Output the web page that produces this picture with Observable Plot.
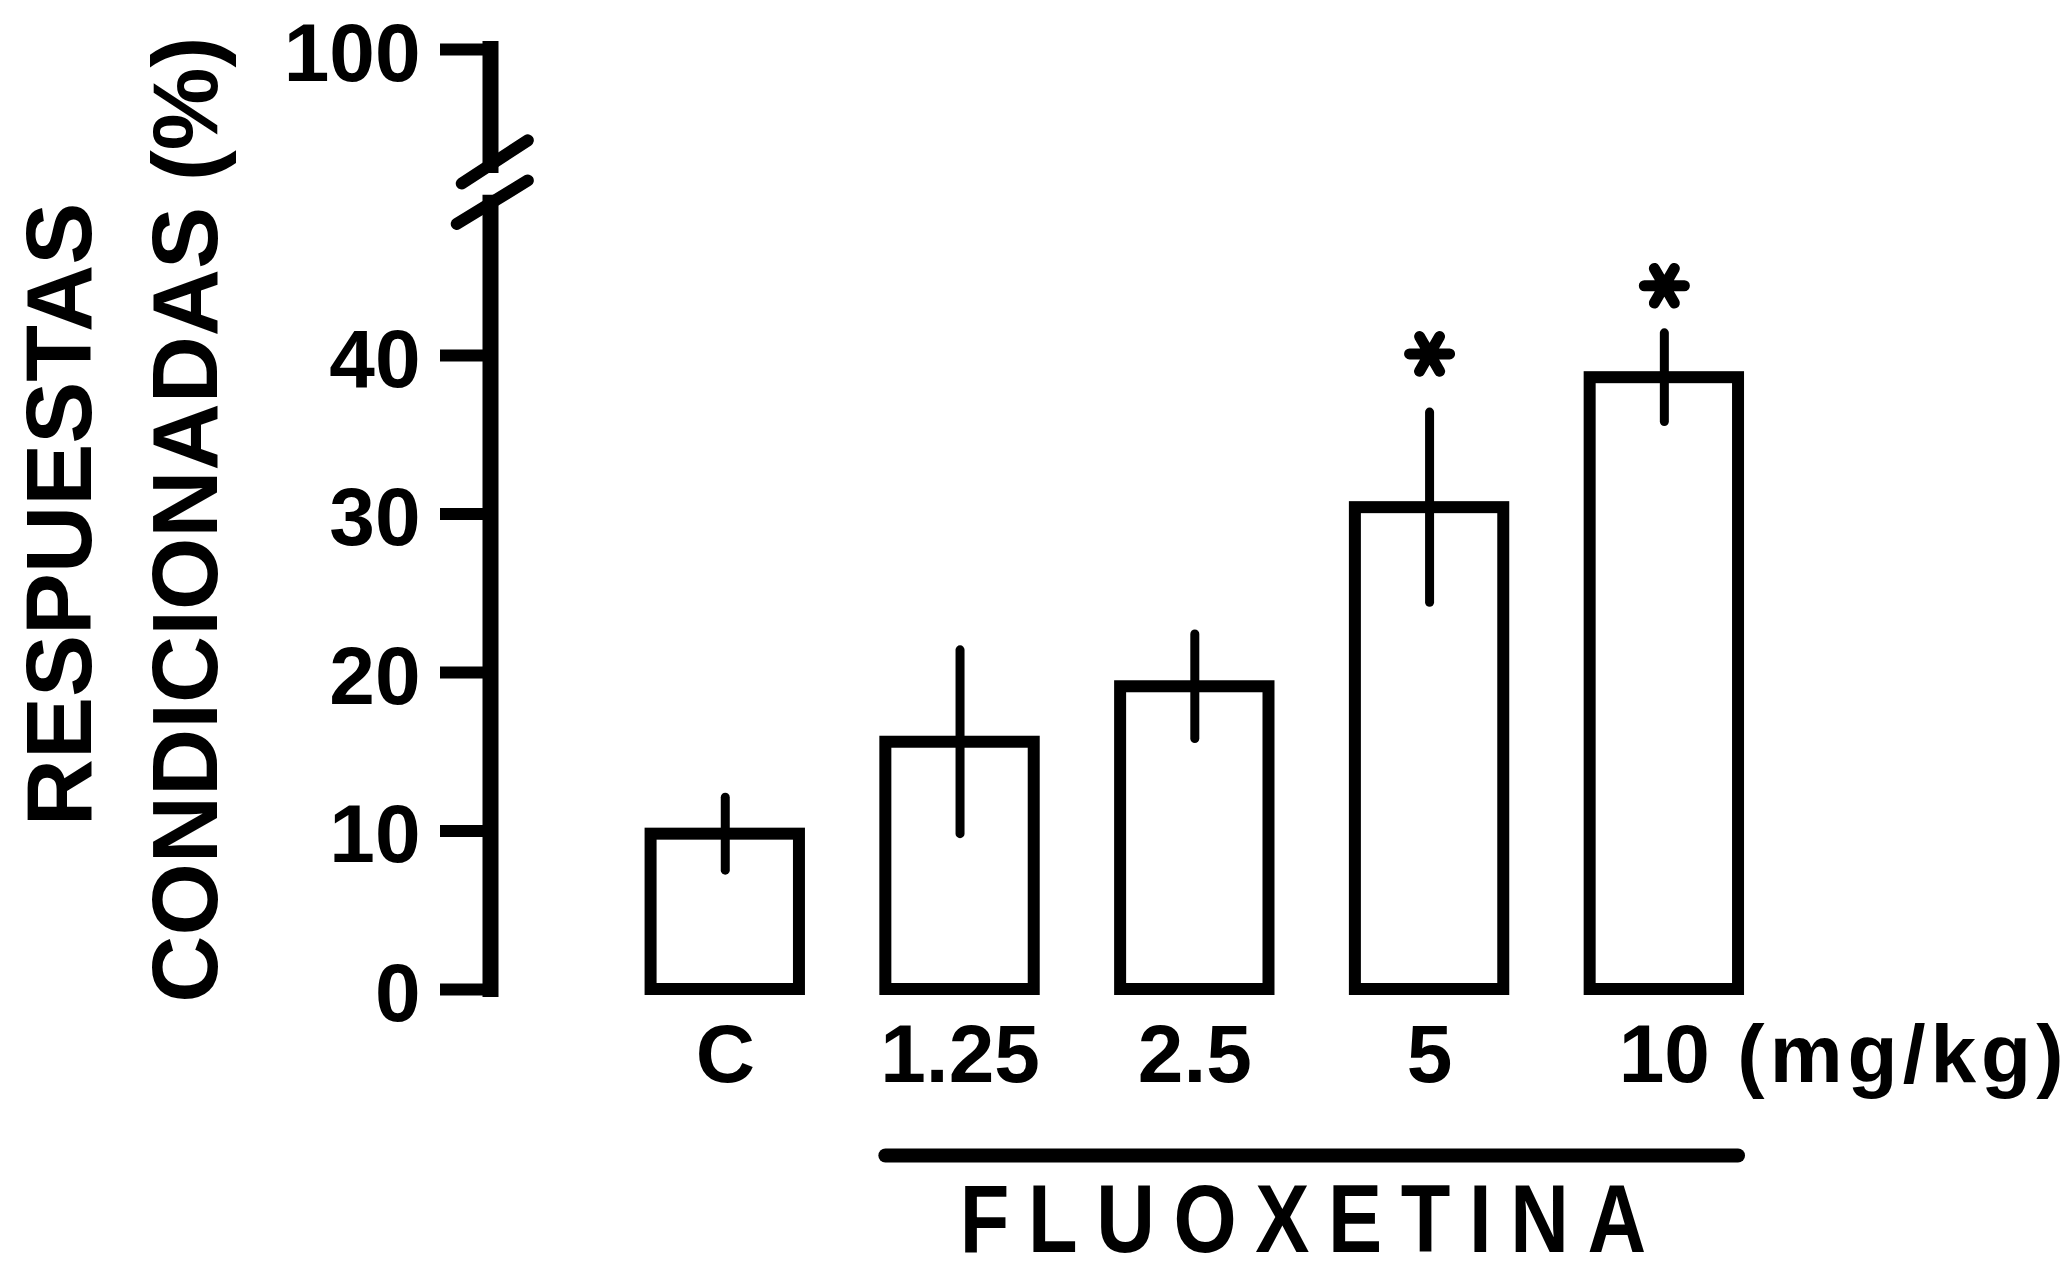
<!DOCTYPE html>
<html>
<head>
<meta charset="utf-8">
<script src="https://cdn.jsdelivr.net/npm/d3@7"></script>
<script src="https://cdn.jsdelivr.net/npm/@observablehq/plot@0.6"></script>
<style>
  html, body { margin: 0; padding: 0; background: #fff; }
  #chart svg { display: block; }
</style>
</head>
<body>
<div id="chart"></div>
<script>
// ---- data ----
const categories = ["C", "1.25", "2.5", "5", "10"];
const means      = [9.8, 15.6, 19.1, 30.4, 38.6];
const errors     = [2.3, 5.8, 3.3, 6.0, 2.8];
const asteriskY  = [null, null, null, 40.1, 44.4];
const yTicks     = [0, 10, 20, 30, 40, 100];
const unitLabel  = "(mg/kg)";
const groupLabel = "FLUOXETINA";
const groupCats  = ["1.25", "10"];
const yLabelLines = ["RESPUESTAS", "CONDICIONADAS (%)"];

// ---- layout helpers ----
const font = "'Liberation Sans', Arial, Helvetica, sans-serif";
const data = categories.map((c, i) => ({cat: c, pos: i, mean: means[i], err: errors[i], star: asteriskY[i]}));
const halfW = 0.316;
const xDomain = [-1, 5.5];
const yDomain = [0, 50, 100];             // broken (piecewise) axis
const yRange  = [989, 196.5, 49];
const axisSegments = [{y1: 0, y2: 49.6}, {y1: 60.7, y2: 100}];
const breakMarks = [
  {x1: -1.1225, y1: 54.6, x2: -0.841, y2: 69.2},
  {x1: -1.1438, y1: 48.3, x2: -0.841, y2: 55.6}
];
const gStart = categories.indexOf(groupCats[0]);
const gEnd = categories.indexOf(groupCats[1]);
const lastPos = categories.length - 1;

const chart = Plot.plot({
  width: 2072,
  height: 1273,
  marginLeft: 490,
  marginRight: 56,
  marginTop: 49,
  marginBottom: 284,
  style: {background: "white", color: "black", overflow: "visible"},
  x: {type: "linear", domain: xDomain, label: null},
  y: {type: "linear", domain: yDomain, range: yRange, label: null},
  marks: [
    // broken y axis line
    Plot.ruleX(axisSegments, {x: () => xDomain[0], y1: "y1", y2: "y2", stroke: "black", strokeWidth: 16, strokeLinecap: "square"}),
    Plot.link(breakMarks, {x1: "x1", y1: "y1", x2: "x2", y2: "y2", stroke: "black", strokeWidth: 12, strokeLinecap: "round"}),
    // y ticks
    Plot.axisY({ticks: yTicks, anchor: "left", tickSize: 50, stroke: "black", strokeWidth: 12, fill: "none", label: null}),
    // y tick labels
    Plot.axisY({ticks: yTicks, anchor: "left", tickSize: 0, tickPadding: 70, fontSize: 82, fontWeight: "bold", fontFamily: font, fill: "black", dy: 5, label: null}),
    // bars
    Plot.rect(data, {x1: d => d.pos - halfW, x2: d => d.pos + halfW, y1: () => 0, y2: "mean", fill: "white", stroke: "black", strokeWidth: 12}),
    // error bars
    Plot.ruleX(data, {x: "pos", y1: d => d.mean - d.err, y2: d => d.mean + d.err, stroke: "black", strokeWidth: 9, strokeLinecap: "round"}),
    // significance asterisks
    Plot.dot(data.filter(d => d.star != null), {x: "pos", y: "star", symbol: "asterisk", r: 19, stroke: "black", strokeWidth: 11, strokeLinecap: "round", rotate: 90}),
    // category labels
    Plot.axisX({ticks: data.map(d => d.pos), tickFormat: i => categories[i], anchor: "bottom", tickSize: 0, tickPadding: 34, fontSize: 82, fontWeight: "bold", fontFamily: font, fill: "black", label: null}),
    Plot.text([unitLabel], {x: () => lastPos, y: () => 0, dx: 73, dy: 34, textAnchor: "start", lineAnchor: "top", fontSize: 82, fontWeight: "bold", fontFamily: font, fill: "black"}),
    // group bracket & label
    Plot.ruleY([-10.47], {x1: () => gStart - halfW, x2: () => gEnd + halfW, stroke: "black", strokeWidth: 14, strokeLinecap: "round"}),
    Plot.text([groupLabel], {x: () => (gStart + gEnd) / 2, y: () => -14.65, lineAnchor: "middle", fontSize: 96, fontWeight: "bold", fontFamily: font, fill: "black"}),
    // y axis title (two lines)
    Plot.text([yLabelLines[0]], {frameAnchor: "left", textAnchor: "middle", y: () => 29.97, dx: -429, rotate: -90, lineAnchor: "middle", fontSize: 93, fontWeight: "bold", fontFamily: font, fill: "black"}),
    Plot.text([yLabelLines[1]], {frameAnchor: "left", textAnchor: "middle", y: () => 29.65, dx: -303, rotate: -90, lineAnchor: "middle", fontSize: 93, fontWeight: "bold", fontFamily: font, fill: "black"})
  ]
});

document.getElementById("chart").appendChild(chart);

// lettering spacing of the original
chart.querySelectorAll("text").forEach(t => {
  const s = t.textContent;
  if (s === groupLabel) {
    t.style.letterSpacing = "22px";
    t.setAttribute("textLength", 705); t.setAttribute("lengthAdjust", "spacingAndGlyphs");
  } else if (s === unitLabel) {
    t.style.letterSpacing = "5px";
  }
});
</script>
</body>
</html>
